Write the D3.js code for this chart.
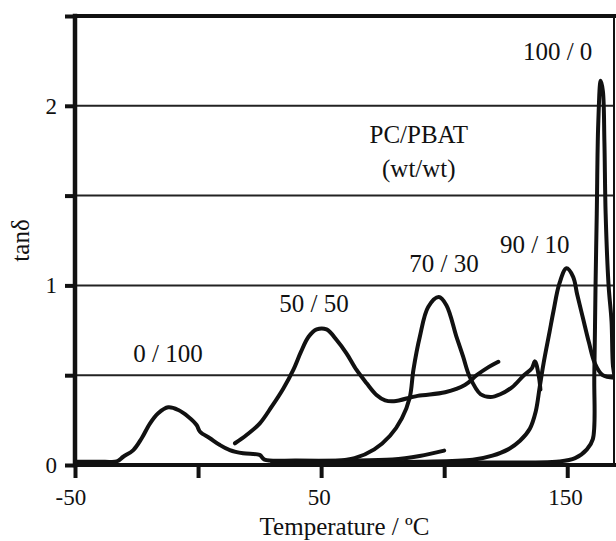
<!DOCTYPE html>
<html>
<head>
<meta charset="utf-8">
<script src="https://cdn.jsdelivr.net/npm/d3@7"></script>
<style>
  html, body { margin: 0; padding: 0; background: #fff; }
  svg { display: block; }
  text { font-family: "Liberation Serif", "Times New Roman", serif; fill: #111; }
</style>
</head>
<body>
<svg id="chart" width="616" height="541"></svg>
<script>
// tan delta vs temperature for PC/PBAT blends (wt/wt)
const xTicks = [-50, 0, 50, 100, 150];
const xTickLabels = ["-50", "", "50", "", "150"];
const yTicks = [0, 0.5, 1, 1.5, 2, 2.5];
const yTickLabels = ["0", "", "1", "", "2", ""];
const gridValues = [0.5, 1, 1.5, 2];

// [temperature °C, tan δ]
const pbat0_100 = [
  [-50, 0.018], [-38, 0.018], [-33, 0.02], [-30.4, 0.046], [-26.3, 0.083], [-22.9, 0.149],
  [-19.5, 0.232], [-16.2, 0.288], [-12.1, 0.321], [-8.0, 0.306], [-4.0, 0.269],
  [-0.6, 0.223], [0.8, 0.185], [4.8, 0.149], [8.9, 0.111], [12.9, 0.083],
  [18.3, 0.065], [25, 0.056], [27, 0.03], [40, 0.025], [60, 0.025], [79, 0.03],
  [90, 0.05], [100, 0.08]
];
const blend50_50 = [
  [15.0, 0.121], [19.7, 0.167], [25.1, 0.232], [29.9, 0.325], [34.6, 0.425],
  [38.7, 0.53], [41.8, 0.63], [44.9, 0.714], [48.2, 0.755], [52.2, 0.755],
  [56.3, 0.696], [60.3, 0.622], [64.4, 0.529], [68.5, 0.455], [72.5, 0.39],
  [76, 0.36], [79.6, 0.355], [89.2, 0.385], [100.4, 0.405], [108.4, 0.445],
  [113.2, 0.5], [118, 0.545], [122, 0.575]
];
const blend70_30 = [
  [30, 0.02], [45, 0.02], [55.6, 0.022], [63.6, 0.038], [71.6, 0.087], [78, 0.163],
  [82.8, 0.26], [86, 0.375], [87.5, 0.53], [90.1, 0.714], [93.5, 0.88],
  [97.8, 0.935], [100.9, 0.89], [105, 0.714], [107.7, 0.603], [110.4, 0.49],
  [114.8, 0.394], [118.8, 0.379], [122.8, 0.394], [127.6, 0.433], [132.4, 0.5],
  [135.6, 0.538], [136.9, 0.577], [138.5, 0.49], [139.1, 0.42]
];
const blend90_10 = [
  [60, 0.015], [90, 0.018], [111.6, 0.029], [119.6, 0.052], [126, 0.087],
  [130.8, 0.135], [134.8, 0.202], [137.2, 0.298], [138.8, 0.433], [140.4, 0.567],
  [142.8, 0.74], [144.4, 0.856], [146.8, 1.01], [149.7, 1.095], [152.4, 1.048],
  [154, 0.952], [156.4, 0.817], [158.8, 0.683], [161.2, 0.567], [164.4, 0.5],
  [169.5, 0.485]
];
const pc100_0 = [
  [40, 0.012], [100, 0.015], [146.8, 0.02], [153.2, 0.038], [158, 0.087],
  [160.4, 0.144], [161, 0.5], [161.5, 1.0], [162, 1.4], [162.6, 1.9],
  [163.6, 2.14], [164.5, 2.08], [165.1, 1.8], [165.6, 1.4], [166.8, 1.0],
  [168, 0.8], [168.6, 0.55], [169.5, 0.48]
];
const seriesList = [pbat0_100, blend50_50, blend70_30, blend90_10, pc100_0];

// curve labels: [text, temperature, tan δ] (text centre, baseline)
const curveLabels = [
  ["0 / 100", -12.2, 0.573],
  ["50 / 50", 47.1, 0.852],
  ["70 / 30", 99.9, 1.075],
  ["90 / 10", 136.8, 1.18],
  ["100 / 0", 146.1, 2.255]
];
const legendTitle = [
  ["PC/PBAT", 89.7, 1.793],
  ["(wt/wt)", 89.7, 1.604]
];

const svg = d3.select("#chart");
const plotLeft = 75, plotRight = 614, plotTop = 16, plotBottom = 465;

const x = d3.scaleLinear().domain([-50, 169]).range([plotLeft, plotRight]);
const y = d3.scaleLinear().domain([0, 2.5]).range([plotBottom, plotTop]);

svg.append("defs").append("clipPath").attr("id", "plotClip")
  .append("rect").attr("x", plotLeft).attr("y", plotTop - 2)
  .attr("width", plotRight - plotLeft).attr("height", plotBottom - plotTop + 4);

// horizontal grid
svg.append("g").selectAll("line").data(gridValues).join("line")
  .attr("x1", plotLeft).attr("x2", plotRight)
  .attr("y1", d => y(d)).attr("y2", d => y(d))
  .attr("stroke", "#222").attr("stroke-width", 2);

// data curves
const line = d3.line()
  .x(d => x(d[0])).y(d => y(d[1]))
  .curve(d3.curveCatmullRom.alpha(0.5));

svg.append("g").attr("clip-path", "url(#plotClip)")
  .selectAll("path").data(seriesList).join("path")
  .attr("d", line)
  .attr("fill", "none")
  .attr("stroke", "#111")
  .attr("stroke-width", 4)
  .attr("stroke-linejoin", "round")
  .attr("stroke-linecap", "round");

// axes
const yAxis = d3.axisLeft(y).tickValues(yTicks).tickSize(10).tickPadding(8)
  .tickFormat((d, i) => yTickLabels[i]);
const gy = svg.append("g").attr("transform", `translate(${plotLeft},0)`).call(yAxis);
gy.select(".domain").remove();
gy.selectAll(".tick line").attr("stroke", "#111").attr("stroke-width", 4);
gy.selectAll(".tick text").attr("font-size", 23)
  .attr("font-family", "Liberation Serif, serif").attr("fill", "#111").attr("dy", "0.33em");

const xAxis = d3.axisBottom(x).tickValues(xTicks).tickSize(13).tickPadding(11)
  .tickFormat((d, i) => xTickLabels[i]);
const gx = svg.append("g").attr("transform", `translate(0,${plotBottom})`).call(xAxis);
gx.select(".domain").remove();
gx.selectAll(".tick line").attr("stroke", "#111").attr("stroke-width", 4);
gx.selectAll(".tick text").attr("font-size", 23)
  .attr("font-family", "Liberation Serif, serif").attr("fill", "#111")
  .attr("dx", (d) => d < 0 ? "-0.2em" : "-0.1em");

// frame
const frame = svg.append("g").attr("stroke", "#111").attr("stroke-linecap", "square");
frame.append("line").attr("x1", plotLeft).attr("x2", plotRight).attr("y1", plotTop).attr("y2", plotTop).attr("stroke-width", 4);
frame.append("line").attr("x1", plotLeft).attr("x2", plotLeft).attr("y1", plotTop).attr("y2", plotBottom).attr("stroke-width", 4.5);
frame.append("line").attr("x1", plotLeft).attr("x2", plotRight).attr("y1", plotBottom).attr("y2", plotBottom).attr("stroke-width", 4);
frame.append("line").attr("x1", plotRight).attr("x2", plotRight).attr("y1", plotTop).attr("y2", plotBottom).attr("stroke-width", 2);

// annotations
svg.append("g").selectAll("text").data(curveLabels.concat(legendTitle)).join("text")
  .attr("x", d => x(d[1])).attr("y", d => y(d[2]))
  .attr("text-anchor", "middle").attr("font-size", 25)
  .text(d => d[0]);

// axis titles
svg.append("text")
  .attr("x", (plotLeft + plotRight) / 2).attr("y", 535)
  .attr("text-anchor", "middle").attr("font-size", 25)
  .text("Temperature / ºC");

svg.append("text")
  .attr("transform", `translate(29, ${(plotTop + plotBottom) / 2}) rotate(-90)`)
  .attr("text-anchor", "middle").attr("font-size", 25)
  .text("tanδ");
</script>
</body>
</html>
